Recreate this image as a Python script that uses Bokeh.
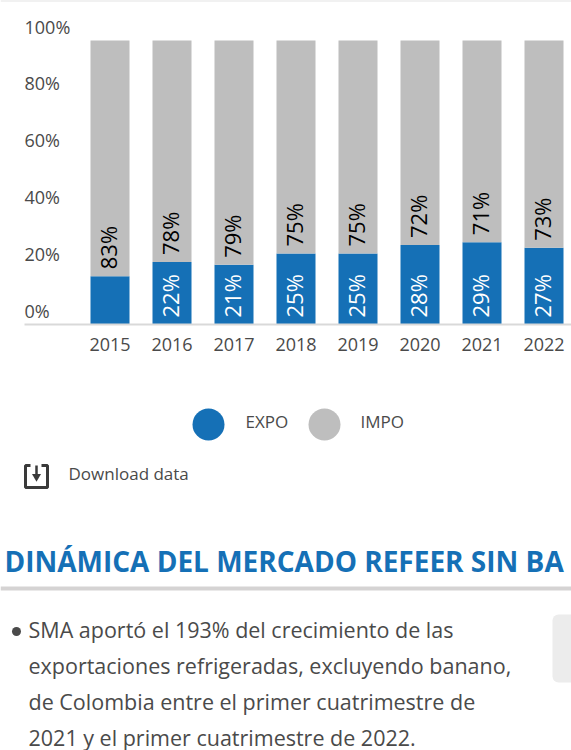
from bokeh.plotting import figure
from bokeh.layouts import column
from bokeh.models import Range1d, FixedTicker, Span
from bokeh.core.properties import value
from bokeh.embed import file_html
from bokeh.resources import INLINE

years = ["2015", "2016", "2017", "2018", "2019", "2020", "2021", "2022"]
expo = [17, 22, 21, 25, 25, 28, 29, 27]
impo = [83, 78, 79, 75, 75, 72, 71, 73]
expo_labels = ["", "22%", "21%", "25%", "25%", "28%", "29%", "27%"]
impo_labels = ["83%", "78%", "79%", "75%", "75%", "72%", "71%", "73%"]
y_ticks = [0, 20, 40, 60, 80, 100]
y_tick_labels = ["0%", "20%", "40%", "60%", "80%", "100%"]
legend_names = ["EXPO", "IMPO"]
heading = "DINÁMICA DEL MERCADO REFEER SIN BA"
body_lines = [
    "SMA aportó el 193% del crecimiento de las",
    "exportaciones refrigeradas, excluyendo banano,",
    "de Colombia entre el primer cuatrimestre de",
    "2021 y el primer cuatrimestre de 2022.",
]

BLUE = "#1570b6"
GRAY = "#bebebe"
TXT = "#4a4a4a"
FONT = value("Open Sans")

xs = list(range(len(years)))
bottoms = [0] * len(xs)

# ---- chart
X0, STEP = 109.5, 62.0
SPLIT = 380
p = figure(width=571, height=SPLIT, output_backend="svg", toolbar_location=None,
           x_range=Range1d(-X0 / STEP, (571 - X0) / STEP),
           y_range=Range1d(0, 324 / 2.84),
           min_border_left=0, min_border_right=0, min_border_top=0, min_border_bottom=SPLIT - 324,
           margin=0)
p.outline_line_color = None
p.grid.visible = False
p.yaxis.visible = False
ax = p.xaxis[0]
ax.ticker = FixedTicker(ticks=xs)
ax.major_label_overrides = {i: y for i, y in zip(xs, years)}
ax.major_tick_line_color = None
ax.minor_tick_line_color = None
ax.axis_line_color = "#d9d9d9"
ax.axis_line_width = 2
ax.bounds = ((24 - X0) / STEP, (571 - X0) / STEP)
ax.major_label_text_font = "Open Sans"
ax.major_label_text_font_size = "18px"
ax.major_label_text_color = TXT
ax.major_label_standoff = 7
p.add_layout(Span(location=324 / 2.84, dimension="width", line_color="#e4e4e4", line_width=2))

W = 39 / STEP
tops = [e + i for e, i in zip(expo, impo)]
p.vbar(x=xs, bottom=bottoms, top=expo, width=W, fill_color=BLUE, line_color=None)
p.vbar(x=xs, bottom=expo, top=tops, width=W, fill_color=GRAY, line_color=None)
p.text(x=xs, y=bottoms, text=expo_labels, angle=1.5708, text_align="left", text_baseline="middle",
       text_color="white", text_font=FONT, text_font_size="22px", x_offset=-2, y_offset=-7)
p.text(x=xs, y=expo, text=impo_labels, angle=1.5708, text_align="left", text_baseline="middle",
       text_color="black", text_font=FONT, text_font_size="22px", x_offset=-2, y_offset=-7)
p.text(x=[(24 - X0) / STEP] * len(y_ticks), y=y_ticks, text=y_tick_labels, text_align="left",
       text_baseline="middle", text_color=TXT, text_font=FONT, text_font_size="18px", y_offset=-14)

# ---- below the chart
p2 = figure(width=571, height=750 - SPLIT, output_backend="svg", toolbar_location=None,
            x_range=Range1d(0, 571), y_range=Range1d(750, SPLIT),
            min_border_left=0, min_border_right=0, min_border_top=0, min_border_bottom=0,
            margin=0)
p2.outline_line_color = None
p2.grid.visible = False
p2.axis.visible = False

p2.scatter(x=[208, 324], y=[424, 424], size=32, fill_color=[BLUE, GRAY], line_color=None)
p2.text(x=[245, 360], y=[421, 421], text=legend_names, text_baseline="middle", text_color=TXT,
        text_font=FONT, text_font_size="17px")

# download icon
p2.multi_line(xs=[[30, 25, 25, 47, 47, 41]], ys=[[465, 465, 487, 487, 465, 465]],
              line_color="#3a3a3a", line_width=3)
p2.segment(x0=[36], y0=[465], x1=[36], y1=[475], line_color="#3a3a3a", line_width=2.5)
p2.scatter(x=[36], y=[476], marker="inverted_triangle", size=9, fill_color="#3a3a3a", line_color=None)
p2.text(x=[68], y=[473], text=["Download data"], text_baseline="middle", text_color=TXT,
        text_font=FONT, text_font_size="17px")

# heading
p2.text(x=[4], y=[560], text=[heading], text_baseline="middle", text_color=BLUE, text_font=FONT,
        text_font_style="bold", text_font_size="28px")
p2.quad(left=[0], right=[571], top=[586], bottom=[590], fill_color="#d5d3d3", line_color=None)

# body
p2.scatter(x=[16], y=[631], size=9, fill_color=TXT, line_color=None)
p2.text(x=[28] * 4, y=[629, 665, 701, 737], text=body_lines, text_baseline="middle", text_color=TXT,
        text_font=FONT, text_font_size="21.5px")
p2.quad(left=[552], right=[580], top=[614], bottom=[682], fill_color="#ececec", line_color=None,
        border_radius=6)

layout = column(p, p2, spacing=0, margin=0)
open("out.html", "w").write(file_html(layout, INLINE))
